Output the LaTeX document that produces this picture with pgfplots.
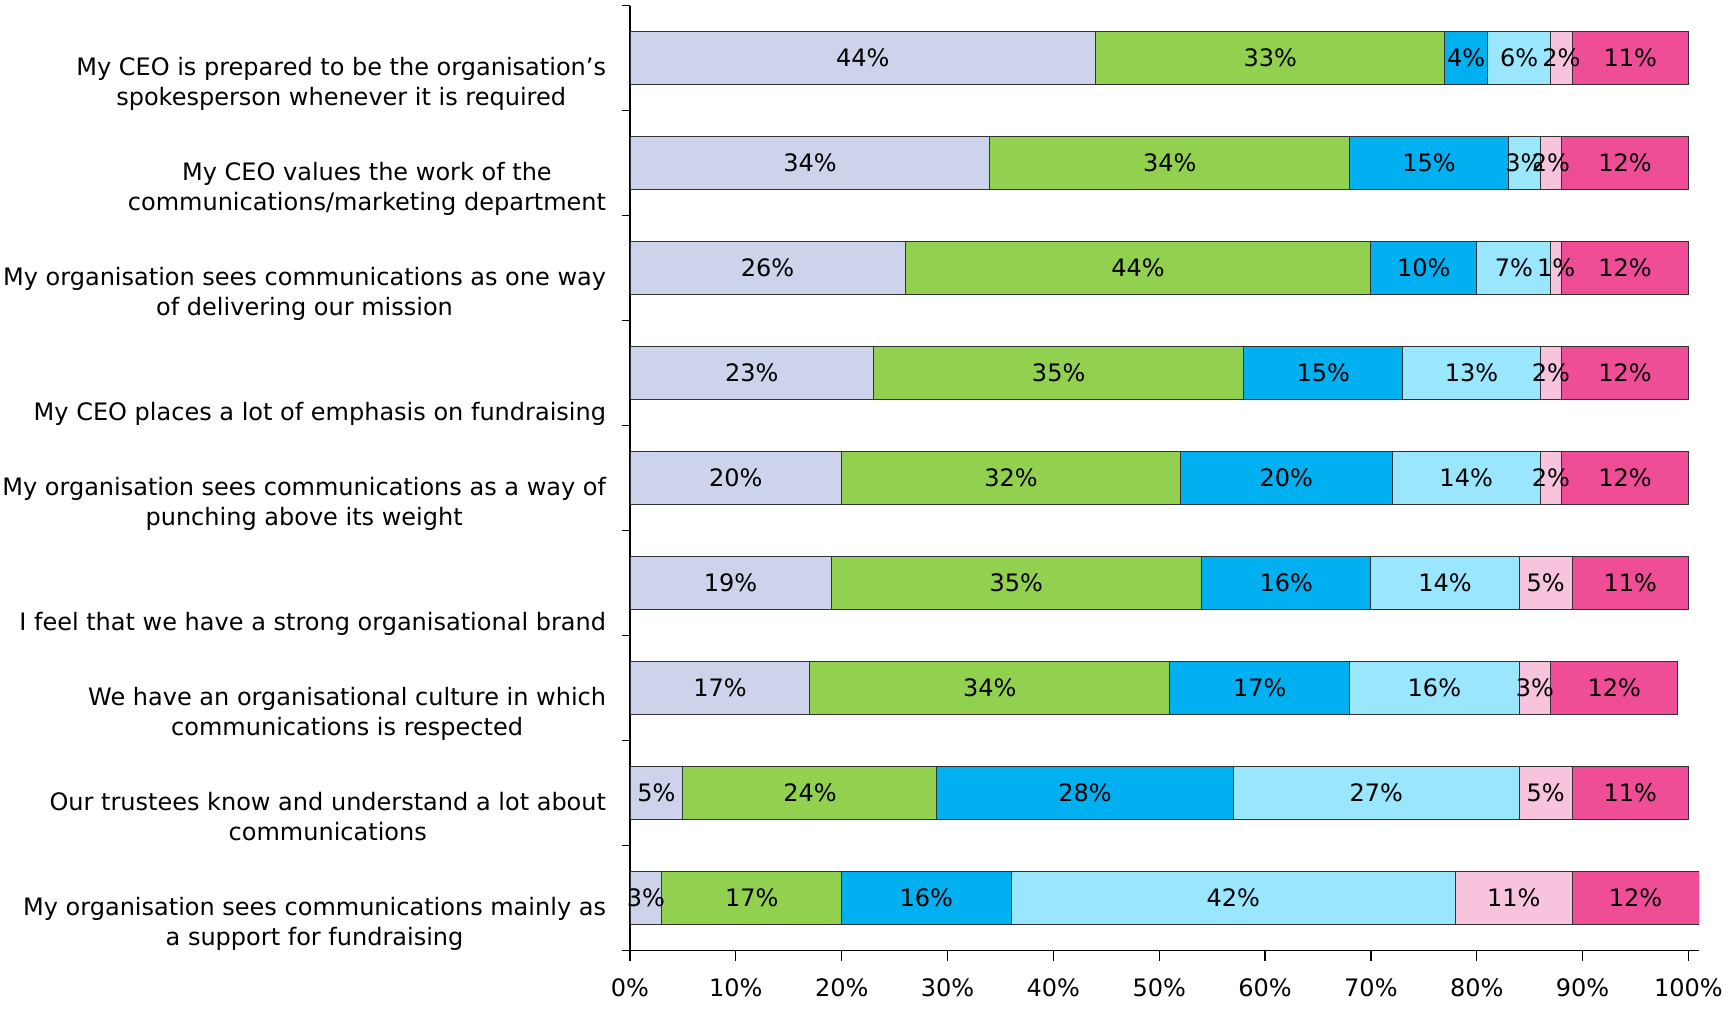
\documentclass[border=0pt]{standalone}
\usepackage{fontspec}
\setmainfont{DejaVu Sans}
\usepackage{pgfplots}
\usepackage{pgfplotstable}
\pgfplotsset{compat=1.18}

\definecolor{lav}{RGB}{204,211,235}
\definecolor{grn}{RGB}{146,208,80}
\definecolor{blu}{RGB}{0,176,240}
\definecolor{cyn}{RGB}{153,230,253}
\definecolor{pnk}{RGB}{248,195,221}
\definecolor{mag}{RGB}{239,78,150}

% rows: 0 = bottom statement, 8 = top statement
\pgfplotstableread{
y a b c d e f
8 44 33 4 6 2 11
7 34 34 15 3 2 12
6 26 44 10 7 1 12
5 23 35 15 13 2 12
4 20 32 20 14 2 12
3 19 35 16 14 5 11
2 17 34 17 16 3 12
1 5 24 28 27 5 11
0 3 17 16 42 11 12
}\data

\begin{document}
\begin{tikzpicture}
\useasboundingbox (0,0) rectangle (864.5pt,504pt);
\begin{axis}[
    at={(315pt,28.75pt)}, anchor=south west,
    scale only axis, width=534.5pt, height=472.5pt,
    xbar stacked, bar width=0.5,
    xmin=0, xmax=101, ymin=-0.5, ymax=8.5,
    axis x line*=bottom, axis y line*=left,
    axis line style={black, line width=0.6pt},
    tick align=outside,
    major tick length=5pt, minor tick length=4pt,
    tick style={black, line width=0.6pt},
    xtick={0,10,...,100},
    xticklabels={0\%,10\%,20\%,30\%,40\%,50\%,60\%,70\%,80\%,90\%,100\%},
    ytick={0,...,8},
    minor ytick={-0.5,0.5,...,8.5},
    major y tick style={draw=none},
    yticklabels={
      {My organisation sees communications mainly as\\a support for fundraising\strut},
      {Our trustees know and understand a lot about\\communications\strut},
      {We have an organisational culture in which\\communications is respected\strut},
      {I feel that we have a strong organisational brand\strut},
      {My organisation sees communications as a way of\\punching above its weight\strut},
      {My CEO places a lot of emphasis on fundraising\strut},
      {My organisation sees communications as one way\\of delivering our mission\strut},
      {My CEO values the work of the\\communications/marketing department\strut},
      {My CEO is prepared to be the organisation’s\\spokesperson whenever it is required\strut}},
    yticklabel style={font=\fontsize{12}{15}\selectfont, align=center,
      anchor=south east, inner sep=0pt, xshift=-6.8pt, yshift=-28.2pt},
    xticklabel style={font=\fontsize{12}{15}\selectfont, anchor=base,
      inner sep=0pt, yshift=-18pt},
    point meta=explicit symbolic,
    nodes near coords={\pgfplotspointmeta\%},
    % stacked bars already put the node in the middle of its segment
    every node near coord/.append style={anchor=center, black,
      font=\fontsize{12}{15}\selectfont, inner sep=0pt},
    every axis plot/.append style={draw=black!80, line width=0.5pt},
]
\addplot[fill=lav] table[x=a, y=y, meta=a] {\data};
\addplot[fill=grn] table[x=b, y=y, meta=b] {\data};
\addplot[fill=blu] table[x=c, y=y, meta=c] {\data};
\addplot[fill=cyn] table[x=d, y=y, meta=d] {\data};
\addplot[fill=pnk] table[x=e, y=y, meta=e] {\data};
\addplot[fill=mag] table[x=f, y=y, meta=f] {\data};
\end{axis}
\end{tikzpicture}
\end{document}
